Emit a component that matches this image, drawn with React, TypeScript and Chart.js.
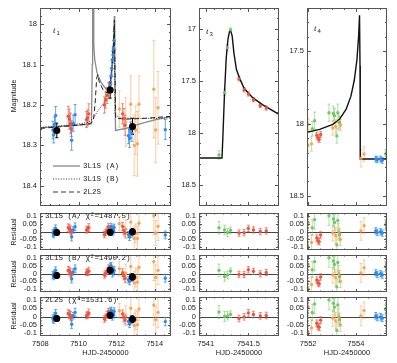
import React, { useEffect, useRef } from "react";
import { Chart, registerables } from "chart.js";

Chart.register(...registerables);

// ---------------- axis tick labels ----------------
const t1HjdTicks = [7508, 7510, 7512, 7514];
const t3HjdTicks = [7541, 7541.5];
const t4HjdTicks = [7552, 7554];
const t1MagTicks = [18, 18.1, 18.2, 18.3, 18.4];
const t3MagTicks = [17, 17.5, 18, 18.5];
const t4MagTicks = [17.5, 18, 18.5];
const residualTicks = [-0.1, -0.05, 0, 0.05, 0.1];

const modelNames = ["3L1S (A)", "3L1S (B)", "2L2S"];
const residualLabels = ["3L1S (A, χ²=1487.5)", "3L1S (B, χ²=1490.2)", "2L2S (χ²=1531.6)"];

// ---------------- t1 data ----------------
const t1BlueT = [7508.66, 7508.7, 7508.74, 7508.8, 7509.64, 7509.72, 7509.82, 7511.67, 7511.71, 7511.75, 7511.78, 7511.81, 7511.84, 7511.87, 7512.62, 7512.68, 7512.74, 7512.8, 7514.55];
const t1BlueMag = [18.262, 18.274, 18.248, 18.226, 18.287, 18.245, 18.224, 18.15, 18.128, 18.11, 18.088, 18.076, 18.06, 18.04, 18.276, 18.283, 18.262, 18.27, 18.261];
const t1BlueErr = [0.022, 0.02, 0.018, 0.022, 0.025, 0.02, 0.025, 0.02, 0.02, 0.02, 0.022, 0.02, 0.02, 0.022, 0.02, 0.022, 0.02, 0.02, 0.025];
const t1BlueResA = [-0.01, -0.02, 0.005, 0.02, -0.035, 0.01, 0.03, 0.015, 0.033, 0.01, -0.005, 0.02, 0.005, 0.025, -0.02, -0.035, -0.005, -0.015, -0.022];
const t1BlueResB = [-0.01, -0.02, 0.005, 0.02, -0.035, 0.01, 0.03, 0.045, 0.05, 0.02, 0.0, 0.025, 0.01, 0.02, -0.04, -0.05, -0.02, -0.03, -0.03];
const t1BlueResC = [-0.012, -0.022, 0.004, 0.02, -0.047, 0.005, 0.025, 0.03, 0.037, 0.015, 0.0, 0.02, 0.01, 0.03, -0.03, -0.045, -0.015, -0.025, -0.031];

const t1RedT = [7509.46, 7509.52, 7509.58, 7509.62, 7510.42, 7510.48, 7510.54, 7511.36, 7511.42, 7511.5, 7511.57, 7512.31, 7512.38, 7512.44];
const t1RedMag = [18.228, 18.235, 18.245, 18.258, 18.236, 18.232, 18.222, 18.2, 18.188, 18.176, 18.165, 18.222, 18.234, 18.25];
const t1RedErr = [0.025, 0.025, 0.025, 0.02, 0.02, 0.02, 0.025, 0.02, 0.02, 0.02, 0.02, 0.025, 0.025, 0.025];
const t1RedResA = [0.024, 0.018, 0.01, -0.005, 0.01, 0.015, 0.025, -0.02, -0.005, 0.01, 0.03, 0.033, 0.005, -0.01];
const t1RedResB = [0.02, 0.015, 0.005, -0.005, 0.006, 0.01, 0.015, -0.01, 0.0, 0.015, 0.035, 0.005, -0.015, -0.03];
const t1RedResC = [0.018, 0.012, 0.005, -0.008, 0.006, 0.01, 0.02, -0.015, -0.005, 0.01, 0.03, 0.015, -0.005, -0.02];

const t1OrangeT = [7512.14, 7512.48, 7512.74, 7512.92, 7513.0, 7513.09, 7513.17, 7513.95, 7514.05, 7514.17];
const t1OrangeMag = [18.21, 18.242, 18.198, 18.3, 18.262, 18.296, 18.198, 18.161, 18.262, 18.207];
const t1OrangeErr = [0.045, 0.06, 0.07, 0.075, 0.06, 0.08, 0.07, 0.12, 0.08, 0.09];
const t1OrangeResA = [0.05, 0.015, 0.06, -0.045, -0.012, -0.045, 0.053, 0.1, -0.01, 0.033];
const t1OrangeResB = [0.03, 0.0, 0.045, -0.06, -0.025, -0.055, 0.04, 0.075, -0.025, 0.02];
const t1OrangeResC = [0.035, 0.005, 0.05, -0.055, -0.02, -0.05, 0.045, 0.07, -0.02, 0.025];

const t1BinT = [7508.86, 7511.66, 7512.83];
const t1BinMag = [18.263, 18.163, 18.253];
const t1BinErr = [0.018, 0.02, 0.02];
const t1BinResA = [-0.006, -0.004, -0.002];
const t1BinResB = [-0.012, 0.02, -0.022];
const t1BinResC = [-0.012, 0.008, -0.016];

// model curves t1
const t1ModelAT = [7508.0, 7509.0, 7510.0, 7510.68, 7510.72, 7510.74, 7510.78, 7510.8, 7510.85, 7510.97, 7511.19, 7511.45, 7511.6, 7511.7, 7511.78, 7511.84, 7511.88, 7511.9, 7511.94, 7512.5, 7513.0, 7513.5, 7514.0, 7514.85];
const t1ModelAMag = [18.256, 18.253, 18.25, 18.247, 18.1, 17.9, 17.9, 18.05, 18.088, 18.12, 18.145, 18.161, 18.155, 18.135, 18.1, 18.05, 17.98, 18.1, 18.263, 18.258, 18.25, 18.243, 18.237, 18.229];
const t1ModelBT = [7508.0, 7509.0, 7510.0, 7510.5, 7510.8, 7511.0, 7511.2, 7511.4, 7511.55, 7511.68, 7511.78, 7511.85, 7511.88, 7511.92, 7512.2, 7513.0, 7514.0, 7514.85];
const t1ModelBMag = [18.256, 18.252, 18.247, 18.243, 18.232, 18.215, 18.203, 18.19, 18.17, 18.14, 18.09, 18.03, 18.0, 18.225, 18.232, 18.233, 18.233, 18.232];
const t1ModelCT = [7508.0, 7509.0, 7510.0, 7510.6, 7510.78, 7510.88, 7510.95, 7511.0, 7511.1, 7511.3, 7511.5, 7511.65, 7511.75, 7511.83, 7511.88, 7511.91, 7511.95, 7512.5, 7513.5, 7514.85];
const t1ModelCMag = [18.258, 18.254, 18.25, 18.246, 18.24, 18.19, 18.135, 18.125, 18.145, 18.163, 18.17, 18.15, 18.11, 18.05, 17.99, 18.1, 18.233, 18.235, 18.233, 18.228];

// ---------------- t3 data ----------------
const t3GreenT = [7541.155, 7541.22, 7541.255, 7541.29];
const t3GreenMag = [18.21, 17.61, 17.18, 17.01];
const t3GreenErr = [0.04, 0.03, 0.025, 0.02];
const t3GreenResA = [0.024, 0.01, -0.006, 0.008];
const t3GreenResB = [0.02, -0.02, -0.01, 0.016];
const t3GreenResC = [0.027, 0.0, 0.004, 0.014];

const t3RedT = [7541.39, 7541.45, 7541.5, 7541.56, 7541.64, 7541.71];
const t3RedMag = [17.48, 17.585, 17.625, 17.68, 17.735, 17.76];
const t3RedErr = [0.02, 0.02, 0.02, 0.02, 0.02, 0.02];
const t3RedResA = [-0.01, -0.008, 0.02, 0.01, 0.0, 0.004];
const t3RedResB = [-0.006, -0.006, 0.024, 0.014, -0.002, 0.006];
const t3RedResC = [-0.012, -0.002, 0.022, 0.012, 0.004, 0.006];

const t3ModelT = [7540.9, 7541.19, 7541.2, 7541.22, 7541.24, 7541.26, 7541.28, 7541.29, 7541.31, 7541.33, 7541.36, 7541.4, 7541.45, 7541.55, 7541.67, 7541.86];
const t3ModelMag = [18.24, 18.24, 18.05, 17.61, 17.28, 17.1, 17.02, 17.01, 17.07, 17.23, 17.39, 17.48, 17.57, 17.66, 17.73, 17.82];

// ---------------- t4 data ----------------
const t4GreenT = [7551.98, 7552.17, 7552.27, 7552.87, 7553.05, 7553.1, 7553.2, 7553.24, 7553.31, 7555.24];
const t4GreenMag = [18.15, 18.035, 17.98, 17.925, 17.93, 17.945, 18.085, 17.925, 17.99, 18.21];
const t4GreenErr = [0.04, 0.05, 0.06, 0.06, 0.05, 0.05, 0.05, 0.06, 0.04, 0.03];
const t4GreenRes = [-0.094, 0.024, 0.076, 0.1, 0.08, 0.057, -0.085, 0.07, -0.02, 0.043];

const t4OrangeT = [7552.0, 7552.14, 7553.03, 7553.15, 7553.28, 7553.35, 7554.21, 7554.34];
const t4OrangeMag = [18.005, 18.14, 18.03, 18.02, 17.99, 18.01, 18.24, 18.21];
const t4OrangeErr = [0.04, 0.05, 0.05, 0.05, 0.05, 0.04, 0.06, 0.05];
const t4OrangeRes = [0.057, -0.07, -0.01, -0.025, 0.0, -0.05, 0.004, 0.037];

const t4RedT = [7552.36, 7552.41, 7552.46, 7552.52];
const t4RedMag = [18.08, 18.1, 18.11, 18.075];
const t4RedErr = [0.02, 0.02, 0.02, 0.02];
const t4RedRes = [-0.041, -0.06, -0.065, -0.022];

const t4BlueT = [7554.83, 7554.89, 7555.03, 7555.1];
const t4BlueMag = [18.245, 18.25, 18.245, 18.255];
const t4BlueErr = [0.02, 0.02, 0.02, 0.02];
const t4BlueRes = [0.004, -0.006, -0.002, -0.01];

const t4ModelT = [7551.9, 7552.48, 7553.03, 7553.31, 7553.59, 7553.79, 7553.93, 7554.04, 7554.11, 7554.15, 7554.17, 7554.18, 7555.4];
const t4ModelMag = [18.062, 18.04, 18.005, 17.97, 17.9, 17.81, 17.7, 17.56, 17.4, 17.25, 17.6, 18.245, 18.245];

// ---------------- styles ----------------
const SANS = '"Liberation Sans", Arial, sans-serif';
const MONO = '"Liberation Mono", "DejaVu Sans Mono", monospace';
const SERIF = '"Liberation Serif", serif';
const TXT = "#222";
const FRAME = "#555";

const BLUE = "#2d8be8";
const BLUE_E = "rgba(45,139,232,0.75)";
const RED = "#ee5540";
const RED_E = "rgba(238,85,64,0.7)";
const ORANGE = "rgba(244,160,80,0.9)";
const ORANGE_E = "rgba(244,170,100,0.6)";
const GREEN = "rgba(108,200,96,0.95)";
const GREEN_E = "rgba(120,205,110,0.6)";

type Series = { t: number[]; v: number[]; e: number[]; color: string; errColor: string; r: number };
type Model = { t: number[]; v: number[]; color: string; width: number; dash: number[] };

interface PanelSpec {
  left: number; top: number; w: number; h: number; padL: number; padB: number;
  xMin: number; xMax: number; yMin: number; yMax: number; reverse: boolean;
  xTicks: number[]; xMinor: number; yTicks: number[]; yMinor: number;
  showX: boolean; zero: boolean; majorLen: number; minorLen: number;
  series: Series[]; models: Model[];
  tlab?: { x: number; y: number; sub: string };
  yTitle?: { x: number; y: number; text: string };
  label?: { x: number; y: number; text: string };
  legend?: boolean;
}

const PAD_T = 3;
const PAD_R = 3;

function pts(t: number[], v: number[]) {
  return t.map((x, i) => ({ x, y: v[i] }));
}

function stepValues(min: number, max: number, step: number) {
  const out: number[] = [];
  const lo = Math.min(min, max), hi = Math.max(min, max);
  for (let k = Math.ceil(lo / step - 1e-9); k * step <= hi + 1e-9; k++) out.push(+(k * step).toFixed(6));
  return out;
}

function Panel({ p }: { p: PanelSpec }) {
  const ref = useRef<HTMLCanvasElement>(null);
  const cw = p.padL + p.w + PAD_R;
  const ch = PAD_T + p.h + p.padB;
  const cLeft = p.left - p.padL;
  const cTop = p.top - PAD_T;

  useEffect(() => {
    const paint: any[] = [];
    p.models.forEach((m) =>
      paint.push({
        data: pts(m.t, m.v), showLine: true, borderColor: m.color, borderWidth: m.width,
        borderDash: m.dash, pointRadius: 0, fill: false, tension: 0,
      })
    );
    p.series.forEach((s) =>
      paint.push({
        data: pts(s.t, s.v), errs: s.e, errColor: s.errColor, showLine: false,
        backgroundColor: s.color, borderWidth: 0, pointRadius: s.r, pointStyle: "circle",
      })
    );
    const datasets = paint.slice().reverse();

    const deco = {
      id: "deco",
      beforeDatasetsDraw(chart: any) {
        const { ctx, chartArea: a } = chart;
        const xs = chart.scales.x, ys = chart.scales.y;
        ctx.save();
        ctx.beginPath();
        ctx.rect(a.left, a.top, a.right - a.left, a.bottom - a.top);
        ctx.clip();
        if (p.zero) {
          const y0 = Math.round(ys.getPixelForValue(0)) + 0.5;
          ctx.strokeStyle = "#444";
          ctx.lineWidth = 1;
          ctx.beginPath();
          ctx.moveTo(a.left, y0);
          ctx.lineTo(a.right, y0);
          ctx.stroke();
        }
        chart.data.datasets.slice().reverse().forEach((ds: any) => {
          if (!ds.errs) return;
          ctx.strokeStyle = ds.errColor;
          ctx.lineWidth = 1;
          ds.data.forEach((pt: any, i: number) => {
            const e = ds.errs[i];
            const px = xs.getPixelForValue(pt.x);
            const y1 = ys.getPixelForValue(pt.y - e);
            const y2 = ys.getPixelForValue(pt.y + e);
            ctx.beginPath();
            ctx.moveTo(px, y1); ctx.lineTo(px, y2);
            ctx.moveTo(px - 1.5, y1); ctx.lineTo(px + 1.5, y1);
            ctx.moveTo(px - 1.5, y2); ctx.lineTo(px + 1.5, y2);
            ctx.stroke();
          });
        });
        ctx.restore();
      },
      afterDatasetsDraw(chart: any) {
        const { ctx, chartArea: a } = chart;
        const xs = chart.scales.x, ys = chart.scales.y;
        ctx.save();
        ctx.strokeStyle = FRAME;
        ctx.lineWidth = 1;
        ctx.strokeRect(a.left + 0.5, a.top + 0.5, a.right - a.left - 1, a.bottom - a.top - 1);
        const drawX = (v: number, len: number) => {
          const x = Math.round(xs.getPixelForValue(v)) + 0.5;
          if (x < a.left + 1 || x > a.right - 1) return;
          ctx.beginPath();
          ctx.moveTo(x, a.bottom); ctx.lineTo(x, a.bottom - len);
          ctx.moveTo(x, a.top); ctx.lineTo(x, a.top + len);
          ctx.stroke();
        };
        const drawY = (v: number, len: number) => {
          const y = Math.round(ys.getPixelForValue(v)) + 0.5;
          if (y < a.top + 1 || y > a.bottom - 1) return;
          ctx.beginPath();
          ctx.moveTo(a.left, y); ctx.lineTo(a.left + len, y);
          ctx.moveTo(a.right, y); ctx.lineTo(a.right - len, y);
          ctx.stroke();
        };
        stepValues(p.xMin, p.xMax, p.xMinor).forEach((v) => drawX(v, p.minorLen));
        p.xTicks.forEach((v) => drawX(v, p.majorLen));
        stepValues(p.yMin, p.yMax, p.yMinor).forEach((v) => drawY(v, p.minorLen));
        p.yTicks.forEach((v) => drawY(v, p.majorLen));

        ctx.fillStyle = TXT;
        if (p.tlab) {
          ctx.font = `italic 9px ${SERIF}`;
          ctx.textBaseline = "alphabetic";
          ctx.textAlign = "left";
          const x = p.tlab.x - cLeft, y = p.tlab.y - cTop;
          ctx.fillText("t", x, y);
          ctx.font = `6px ${SANS}`;
          ctx.fillText(p.tlab.sub, x + 3.5, y + 2);
        }
        if (p.yTitle) {
          ctx.save();
          ctx.translate(p.yTitle.x - cLeft, p.yTitle.y - cTop);
          ctx.rotate(-Math.PI / 2);
          ctx.font = `7px ${SANS}`;
          ctx.textAlign = "center";
          ctx.textBaseline = "middle";
          ctx.fillText(p.yTitle.text, 0, 0);
          ctx.restore();
        }
        if (p.label) {
          ctx.font = `7.5px ${MONO}`;
          ctx.textAlign = "left";
          ctx.textBaseline = "middle";
          ctx.fillText(p.label.text, p.label.x - cLeft, p.label.y - cTop);
        }
        if (p.legend) {
          const rows = [166, 179, 192];
          const styles = [
            { c: "#888", w: 1.3, d: [] as number[] },
            { c: "#333", w: 1, d: [1, 1.6] },
            { c: "#333", w: 1, d: [5, 3] },
          ];
          rows.forEach((ry, i) => {
            const y = ry - cTop;
            ctx.strokeStyle = styles[i].c;
            ctx.lineWidth = styles[i].w;
            ctx.setLineDash(styles[i].d);
            ctx.beginPath();
            ctx.moveTo(53 - cLeft, y); ctx.lineTo(80 - cLeft, y);
            ctx.stroke();
            ctx.setLineDash([]);
            ctx.font = `7.5px ${MONO}`;
            ctx.textAlign = "left";
            ctx.textBaseline = "middle";
            ctx.fillText(modelNames[i], 83 - cLeft, y);
          });
        }
        ctx.restore();
      },
    };

    const tickFont = { family: SANS, size: 7.5 };
    const chart = new Chart(ref.current as HTMLCanvasElement, {
      type: "scatter",
      data: { datasets } as any,
      options: {
        animation: false,
        responsive: false,
        maintainAspectRatio: false,
        events: [],
        layout: { padding: { top: PAD_T, right: PAD_R, left: 0, bottom: 0 } },
        plugins: { legend: { display: false }, tooltip: { enabled: false } },
        scales: {
          x: {
            type: "linear", position: "bottom", min: p.xMin, max: p.xMax,
            grid: { display: false, drawTicks: false }, border: { display: false },
            ticks: {
              display: p.showX, autoSkip: false, maxRotation: 0, minRotation: 0, padding: 3,
              color: TXT, font: tickFont, callback: (v: any) => String(+(+v).toFixed(3)),
            },
            afterBuildTicks: (s: any) => { s.ticks = p.xTicks.map((value) => ({ value })); },
            afterFit: (s: any) => { s.height = p.padB; s.paddingLeft = 0; s.paddingRight = 0; },
            title: {
              display: p.showX, text: "HJD-2450000", color: TXT,
              font: { family: SANS, size: 7.5 }, padding: { top: 0, bottom: 5 },
            },
          },
          y: {
            type: "linear", position: "left", min: p.yMin, max: p.yMax, reverse: p.reverse,
            grid: { display: false, drawTicks: false }, border: { display: false },
            ticks: {
              autoSkip: false, padding: 3, color: TXT, font: tickFont,
              callback: (v: any) => String(+(+v).toFixed(3)),
            },
            afterBuildTicks: (s: any) => { s.ticks = p.yTicks.map((value) => ({ value })); },
            afterFit: (s: any) => { s.width = p.padL; s.paddingTop = 0; s.paddingBottom = 0; },
          },
        },
      } as any,
      plugins: [deco],
    });
    return () => chart.destroy();
  }, []);

  return (
    <canvas
      ref={ref}
      width={cw}
      height={ch}
      style={{ position: "absolute", left: cLeft, top: cTop, width: cw, height: ch }}
    />
  );
}

// ---------------- layout ----------------
const COLS = [
  { left: 40, w: 132, padL: 40, xMin: 7507.98, xMax: 7514.85, xTicks: t1HjdTicks, xMinor: 0.5 },
  { left: 199, w: 81, padL: 26, xMin: 7540.92, xMax: 7541.86, xTicks: t3HjdTicks, xMinor: 0.1 },
  { left: 307, w: 81, padL: 26, xMin: 7551.95, xMax: 7555.3, xTicks: t4HjdTicks, xMinor: 0.5 },
];
const RES_TOPS = [212, 254, 296];
const RES_H = 40;

function buildPanels(): PanelSpec[] {
  const out: PanelSpec[] = [];
  const t1Models: Model[] = [
    { t: t1ModelAT, v: t1ModelAMag, color: "#8a8a8a", width: 1.3, dash: [] },
    { t: t1ModelBT, v: t1ModelBMag, color: "#222", width: 1, dash: [1, 1.6] },
    { t: t1ModelCT, v: t1ModelCMag, color: "#222", width: 1, dash: [5, 3] },
  ];
  const base = { top: 7, h: 201, padB: 2, showX: false, zero: false, majorLen: 4, minorLen: 2, reverse: true };
  out.push({
    ...base, ...COLS[0], yMin: 17.96, yMax: 18.45, yTicks: t1MagTicks, yMinor: 0.02,
    models: t1Models,
    series: [
      { t: t1OrangeT, v: t1OrangeMag, e: t1OrangeErr, color: ORANGE, errColor: ORANGE_E, r: 1.7 },
      { t: t1RedT, v: t1RedMag, e: t1RedErr, color: RED, errColor: RED_E, r: 1.7 },
      { t: t1BlueT, v: t1BlueMag, e: t1BlueErr, color: BLUE, errColor: BLUE_E, r: 1.7 },
      { t: t1BinT, v: t1BinMag, e: t1BinErr, color: "#000", errColor: "#000", r: 3.5 },
    ],
    tlab: { x: 53, y: 33, sub: "1" },
    yTitle: { x: 14, y: 96, text: "Magnitude" },
    legend: true,
  });
  out.push({
    ...base, ...COLS[1], yMin: 16.8, yMax: 18.7, yTicks: t3MagTicks, yMinor: 0.1,
    models: [{ t: t3ModelT, v: t3ModelMag, color: "#111", width: 1.4, dash: [] }],
    series: [
      { t: t3GreenT, v: t3GreenMag, e: t3GreenErr, color: GREEN, errColor: GREEN_E, r: 1.7 },
      { t: t3RedT, v: t3RedMag, e: t3RedErr, color: RED, errColor: RED_E, r: 1.7 },
    ],
    tlab: { x: 206, y: 34, sub: "3" },
  });
  out.push({
    ...base, ...COLS[2], yMin: 17.2, yMax: 18.57, yTicks: t4MagTicks, yMinor: 0.1,
    models: [{ t: t4ModelT, v: t4ModelMag, color: "#111", width: 1.4, dash: [] }],
    series: [
      { t: t4OrangeT, v: t4OrangeMag, e: t4OrangeErr, color: ORANGE, errColor: ORANGE_E, r: 1.7 },
      { t: t4GreenT, v: t4GreenMag, e: t4GreenErr, color: GREEN, errColor: GREEN_E, r: 1.7 },
      { t: t4RedT, v: t4RedMag, e: t4RedErr, color: RED, errColor: RED_E, r: 1.7 },
      { t: t4BlueT, v: t4BlueMag, e: t4BlueErr, color: BLUE, errColor: BLUE_E, r: 1.7 },
    ],
    tlab: { x: 314, y: 31, sub: "4" },
  });

  const t1Res = [
    [t1OrangeResA, t1RedResA, t1BlueResA, t1BinResA],
    [t1OrangeResB, t1RedResB, t1BlueResB, t1BinResB],
    [t1OrangeResC, t1RedResC, t1BlueResC, t1BinResC],
  ];
  const t3Res = [
    [t3GreenResA, t3RedResA],
    [t3GreenResB, t3RedResB],
    [t3GreenResC, t3RedResC],
  ];
  RES_TOPS.forEach((top, r) => {
    const last = r === RES_TOPS.length - 1;
    const rb = {
      top, h: RES_H, padB: last ? 26 : 2, showX: last, zero: true, majorLen: 3, minorLen: 1.5,
      reverse: false, yMin: -0.118, yMax: 0.118, yTicks: residualTicks, yMinor: 0.01, models: [] as Model[],
    };
    out.push({
      ...rb, ...COLS[0],
      series: [
        { t: t1OrangeT, v: t1Res[r][0], e: t1OrangeErr, color: ORANGE, errColor: ORANGE_E, r: 1.7 },
        { t: t1RedT, v: t1Res[r][1], e: t1RedErr, color: RED, errColor: RED_E, r: 1.7 },
        { t: t1BlueT, v: t1Res[r][2], e: t1BlueErr, color: BLUE, errColor: BLUE_E, r: 1.7 },
        { t: t1BinT, v: t1Res[r][3], e: t1BinErr, color: "#000", errColor: "#000", r: 3.5 },
      ],
      yTitle: { x: 14, y: top + RES_H / 2, text: "Residual" },
      label: { x: 45, y: top + 4.5, text: residualLabels[r] },
    });
    out.push({
      ...rb, ...COLS[1],
      series: [
        { t: t3GreenT, v: t3Res[r][0], e: t3GreenErr, color: GREEN, errColor: GREEN_E, r: 1.7 },
        { t: t3RedT, v: t3Res[r][1], e: t3RedErr, color: RED, errColor: RED_E, r: 1.7 },
      ],
    });
    out.push({
      ...rb, ...COLS[2],
      series: [
        { t: t4OrangeT, v: t4OrangeRes, e: t4OrangeErr, color: ORANGE, errColor: ORANGE_E, r: 1.7 },
        { t: t4GreenT, v: t4GreenRes, e: t4GreenErr, color: GREEN, errColor: GREEN_E, r: 1.7 },
        { t: t4RedT, v: t4RedRes, e: t4RedErr, color: RED, errColor: RED_E, r: 1.7 },
        { t: t4BlueT, v: t4BlueRes, e: t4BlueErr, color: BLUE, errColor: BLUE_E, r: 1.7 },
      ],
    });
  });
  return out;
}

const PANELS = buildPanels();

export default function App() {
  return (
    <div style={{ position: "fixed", left: 0, top: 0, width: 397, height: 363, background: "#fff", overflow: "hidden" }}>
      {PANELS.map((p, i) => (
        <Panel key={i} p={p} />
      ))}
    </div>
  );
}
